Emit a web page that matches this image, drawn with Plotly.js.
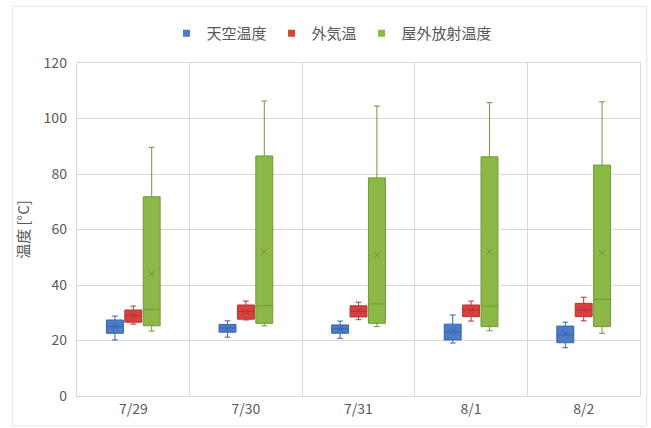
<!DOCTYPE html>
<html>
<head>
<meta charset="utf-8">
<script src="https://cdn.plot.ly/plotly-3.0.1.min.js"></script>
<style>
  html, body { margin: 0; padding: 0; background: #ffffff; }
  #chart { width: 651px; height: 428px; }
</style>
</head>
<body>
<div id="chart"></div>
<script>
// ------------------------------------------------------------------------------
// DATA (°C)

const days = ['7/29', '7/30', '7/31', '8/1', '8/2'];

// 天空温度
const sky_low    = [20.2, 21.2, 20.8, 19.1, 17.4];
const sky_q1     = [22.6, 23.0, 22.6, 20.2, 19.2];
const sky_med    = [25.0, 24.5, 24.2, 23.0, 22.0];
const sky_q3     = [27.4, 25.8, 25.6, 25.9, 25.2];
const sky_high   = [28.8, 27.1, 27.0, 29.2, 26.6];
const sky_mean   = [25.0, 24.4, 24.2, 23.2, 22.4];

// 外気温
const air_low    = [25.9, 27.4, 27.5, 27.0, 27.1];
const air_q1     = [26.6, 27.7, 28.5, 28.6, 28.6];
const air_med    = [29.0, 30.5, 30.5, 31.0, 31.0];
const air_q3     = [31.0, 32.8, 32.5, 32.8, 33.4];
const air_high   = [32.4, 34.2, 33.8, 34.2, 35.6];
const air_mean   = [28.9, 30.4, 30.6, 30.8, 31.0];

// 屋外放射温度
const rad_low    = [23.4, 25.3, 25.0, 23.5, 22.6];
const rad_q1     = [25.3, 26.2, 26.2, 25.0, 25.0];
const rad_med    = [31.2, 32.5, 33.2, 32.4, 34.8];
const rad_q3     = [71.8, 86.5, 78.6, 86.2, 83.2];
const rad_high   = [89.6, 106.3, 104.5, 105.7, 106.0];
const rad_mean   = [44.0, 52.0, 50.8, 52.0, 51.6];

// ------------------------------------------------------------------------------
// STYLE

const font_family = '"Noto Sans CJK JP", "Open Sans", sans-serif';
const text_color  = '#595959';
const grid_color  = '#d9d9d9';

const series = [
    {name: '天空温度',     low: sky_low, q1: sky_q1, med: sky_med, q3: sky_q3, high: sky_high, mean: sky_mean,
     fill: '#4a7dc8', line: '#3a64a6'},
    {name: '外気温',       low: air_low, q1: air_q1, med: air_med, q3: air_q3, high: air_high, mean: air_mean,
     fill: '#d8413f', line: '#b23533'},
    {name: '屋外放射温度', low: rad_low, q1: rad_q1, med: rad_med, q3: rad_q3, high: rad_high, mean: rad_mean,
     fill: '#8cb946', line: '#72963a'},
];

const traces = [];

// boxes
for (const s of series) {
    traces.push({
        type: 'box',
        name: s.name,
        x: days,
        lowerfence: s.low,
        q1: s.q1,
        median: s.med,
        q3: s.q3,
        upperfence: s.high,
        fillcolor: s.fill,
        line: {color: s.line, width: 1},
        whiskerwidth: 0.35,
        showlegend: false,
        hoverinfo: 'y'
    });
}

// mean markers (x), grouped like the boxes
for (const s of series) {
    traces.push({
        type: 'scatter',
        mode: 'markers',
        x: days,
        y: s.mean,
        showlegend: false,
        marker: {symbol: 'x-thin', size: 6, line: {color: s.line, width: 1}},
        hoverinfo: 'y'
    });
}

// small square legend keys, on a hidden overlay axis so they don't take a group slot
for (const s of series) {
    traces.push({
        type: 'scatter',
        mode: 'markers',
        name: s.name,
        x: [null],
        y: [null],
        xaxis: 'x2',
        marker: {symbol: 'square', size: 7, color: s.fill},
        hoverinfo: 'skip'
    });
}

const layout = {
    width: 651,
    height: 428,
    paper_bgcolor: '#ffffff',
    plot_bgcolor: '#ffffff',
    font: {family: font_family, color: text_color, size: 14},
    margin: {l: 77, r: 11, t: 63, b: 32},
    boxmode: 'group',
    boxgap: 0.51,
    boxgroupgap: 0.08,
    scattermode: 'group',
    scattergap: 0.51,
    showlegend: true,
    legend: {
        orientation: 'h',
        xref: 'container',
        yref: 'container',
        x: 0.51,
        xanchor: 'center',
        y: 0.922,
        yanchor: 'middle',
        font: {size: 15, color: text_color},
        itemwidth: 30,
        tracegroupgap: 0
    },
    xaxis: {
        type: 'category',
        tickson: 'boundaries',
        ticks: '',
        showgrid: true,
        gridcolor: grid_color,
        showline: true,
        mirror: true,
        linecolor: grid_color,
        linewidth: 1,
        tickfont: {size: 14, color: text_color},
        fixedrange: true
    },
    xaxis2: {
        overlaying: 'x',
        visible: false,
        range: [0, 1],
        fixedrange: true
    },
    yaxis: {
        range: [0, 120],
        dtick: 20,
        showgrid: true,
        gridcolor: grid_color,
        zeroline: false,
        showline: true,
        mirror: true,
        linecolor: grid_color,
        linewidth: 1,
        ticks: '',
        ticksuffix: '  ',
        tickfont: {size: 14, color: text_color},
        title: {text: '温度 [°C]', font: {size: 15, color: text_color}, standoff: 10},
        fixedrange: true
    },
    shapes: [
        {
            type: 'rect', xref: 'paper', yref: 'paper',
            x0: -0.115, x1: 1.012, y0: -0.09, y1: 1.17,
            line: {color: '#e4e4e4', width: 1}
        }
    ]
};

Plotly.newPlot('chart', traces, layout, {displayModeBar: false, staticPlot: true});
</script>
</body>
</html>
